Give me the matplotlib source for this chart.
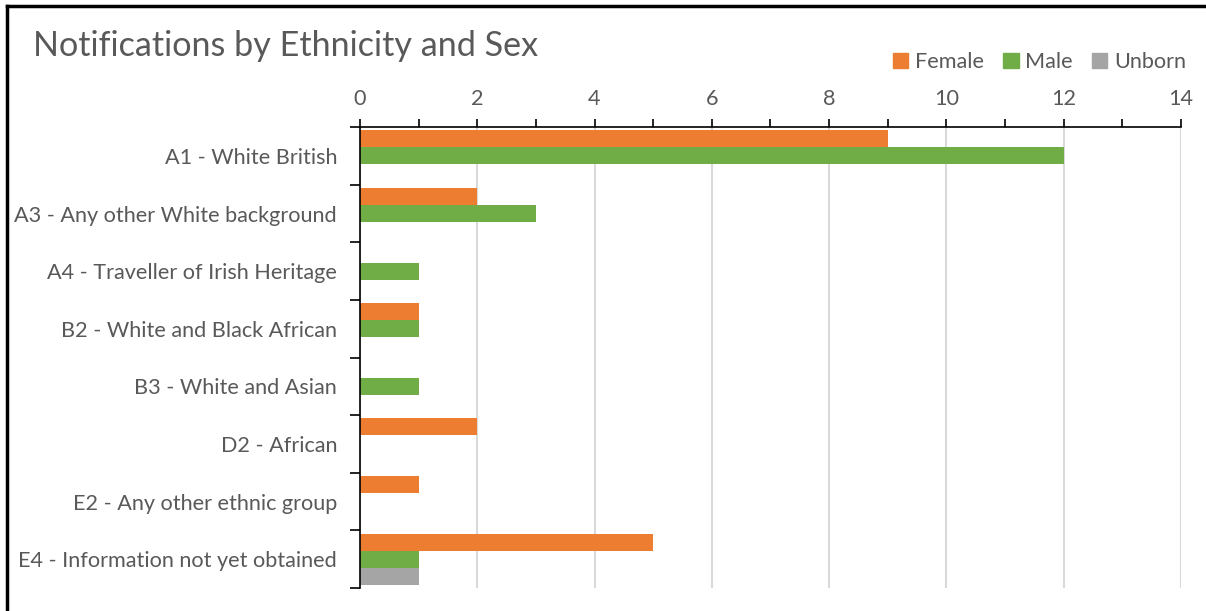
import numpy as np
from matplotlib import pyplot as plt
from matplotlib.lines import Line2D

categories = ['A1 - White British', 'A3 - Any other White background',
              'A4 - Traveller of Irish Heritage', 'B2 - White and Black African',
              'B3 - White and Asian', 'D2 - African', 'E2 - Any other ethnic group',
              'E4 - Information not yet obtained']
female = [9, 2, 0, 1, 0, 2, 1, 5]
male = [12, 3, 1, 1, 1, 0, 0, 1]
unborn = [0, 0, 0, 0, 0, 0, 0, 1]
series_names = ['Female', 'Male', 'Unborn']
colors = ['#ED7D31', '#70AD47', '#A5A5A5']

plt.rcParams['font.family'] = ['Lato', 'DejaVu Sans']
txt = '#595959'
fs = 15.6

fig = plt.figure(figsize=(12.06, 6.11), dpi=100)
ax = fig.add_axes([0.2985, 0.0376, 0.6807, 0.7544])

y = np.arange(len(categories))
h = 0.295
for k, vals in enumerate([female, male, unborn]):
    ax.barh(y + (k - 1) * h, vals, height=h, color=colors[k], label=series_names[k], zorder=3)

ax.set_xlim(0, 14)
ax.set_ylim(len(categories) - 0.5, -0.5)
ax.xaxis.tick_top()
ax.set_xticks(np.arange(0, 15, 2))
ax.set_xticks(np.arange(1, 14, 2), minor=True)
ax.tick_params(axis='x', which='both', direction='out', length=6, width=1.2, color='black',
               labelsize=fs, labelcolor=txt, pad=7)
ax.set_yticks(y)
ax.set_yticklabels(categories)
ax.set_yticks(np.arange(-0.5, len(categories)), minor=True)
ax.tick_params(axis='y', which='major', length=0, labelsize=fs, labelcolor=txt, pad=16.5)
ax.tick_params(axis='y', which='minor', direction='out', length=7, width=1.2, color='black')
ax.grid(axis='x', color='#D9D9D9', linewidth=1.5, zorder=0)
for s in ['right', 'bottom']:
    ax.spines[s].set_visible(False)
for s in ['left', 'top']:
    ax.spines[s].set_color('black')
    ax.spines[s].set_linewidth(1.2)
    ax.spines[s].set_zorder(4)

fig.text(0.027, 0.925, 'Notifications by Ethnicity and Sex', fontsize=24.6, color=txt, va='center')

handles = [plt.Rectangle((0, 0), 1, 1, color=c) for c in colors]
fig.legend(handles, series_names, loc='center right', bbox_to_anchor=(0.9995, 0.899),
           ncol=3, frameon=False, fontsize=fs, labelcolor=txt, handlelength=0.7,
           handleheight=0.7, handletextpad=0.3, columnspacing=0.9)

fig.add_artist(Line2D([0.006, 1.0], [0.99, 0.99], color='black', linewidth=2.5))
fig.add_artist(Line2D([0.006, 0.006], [0.0, 0.99], color='black', linewidth=2.5))

plt.savefig('out.png', dpi=100)
